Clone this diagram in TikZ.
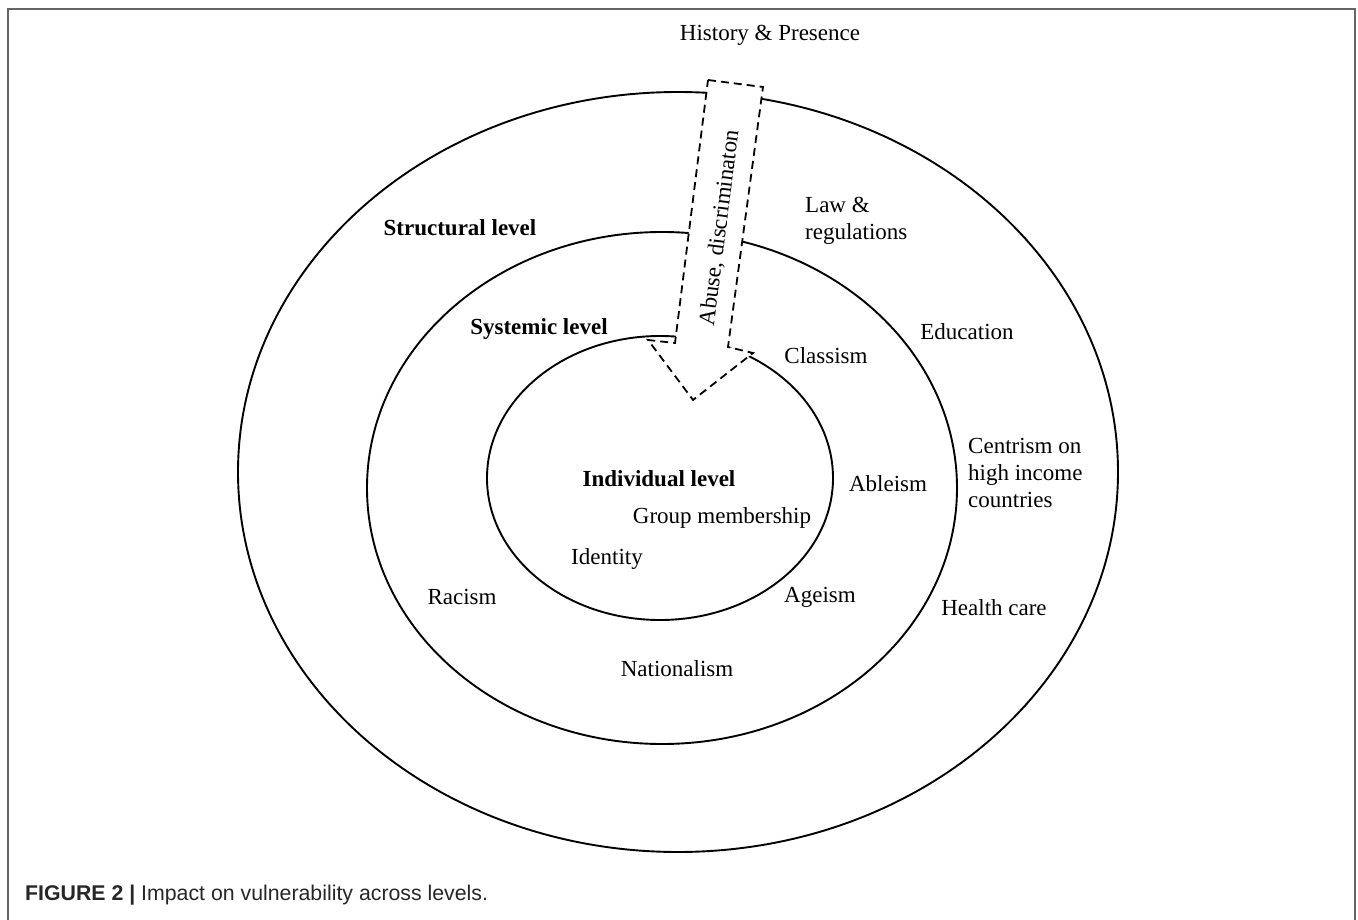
\documentclass[tikz,border=0pt]{standalone}
\usepackage{fontspec}
\setmainfont{Liberation Serif}
\newfontfamily\capfont{Liberation Sans}

\begin{document}
\begin{tikzpicture}[x=1pt, y=-1pt,
    ring/.style={line width=1.9pt},
    lbl/.style={font=\fontsize{23}{27}\selectfont, inner sep=0pt},
    lvl/.style={lbl, font=\fontsize{23}{27}\selectfont\bfseries}]
                \useasboundingbox (0, 0) rectangle (1358, 920);
                \draw[gray!80!black, line width=2pt] (8, 920) -- (8, 9) -- (1355, 9) -- (1355, 920);

                \draw[ring] (678, 472) ellipse [x radius=440, y radius=380];
                \draw[ring] (662, 488) ellipse [x radius=295, y radius=256];
                \draw[ring] (660, 478) ellipse [x radius=173, y radius=142];

                % arrow through the levels
                \draw[dash pattern=on 8pt off 5pt, line width=1.8pt, fill=white]
                    (708, 80) -- (763, 87) -- (728, 347) -- (753, 353) -- (693, 400) -- (648, 340) -- (675, 343) -- cycle;
                \node[lbl, rotate=82.8] (abuse) at (720, 228) {Abuse, discriminaton};

                \node[lbl] (history) at (770, 35) {History \& Presence};

                \node[lvl] (structural) at (460, 228) {Structural level};
                \node[lvl] (systemic) at (539, 329) {Systemic level};
                \node[lvl] (individual) at (659, 479) {Individual level};

                \node[lbl, anchor=west, align=left] (law) at (805, 221) {Law \&\\regulations};
                \node[lbl] (education) at (967, 332) {Education};
                \node[lbl, anchor=west, align=left] (centrism) at (968, 473) {Centrism on\\high income\\countries};
                \node[lbl] (health) at (994, 608) {Health care};

                \node[lbl] (classism) at (826, 356) {Classism};
                \node[lbl] (ableism) at (888, 484) {Ableism};
                \node[lbl] (ageism) at (820, 597) {Ageism};
                \node[lbl] (nationalism) at (677, 669) {Nationalism};
                \node[lbl] (racism) at (462, 597) {Racism};

                \node[lbl] (group) at (722, 518) {Group membership};
                \node[lbl] (identity) at (607, 559) {Identity};

                \node[anchor=west, inner sep=0pt, text=black!85, font=\capfont\fontsize{21.3}{25}\selectfont] (caption) at (25, 895)
                    {\textbf{FIGURE 2 |} Impact on vulnerability across levels.};
\end{tikzpicture}
\end{document}
